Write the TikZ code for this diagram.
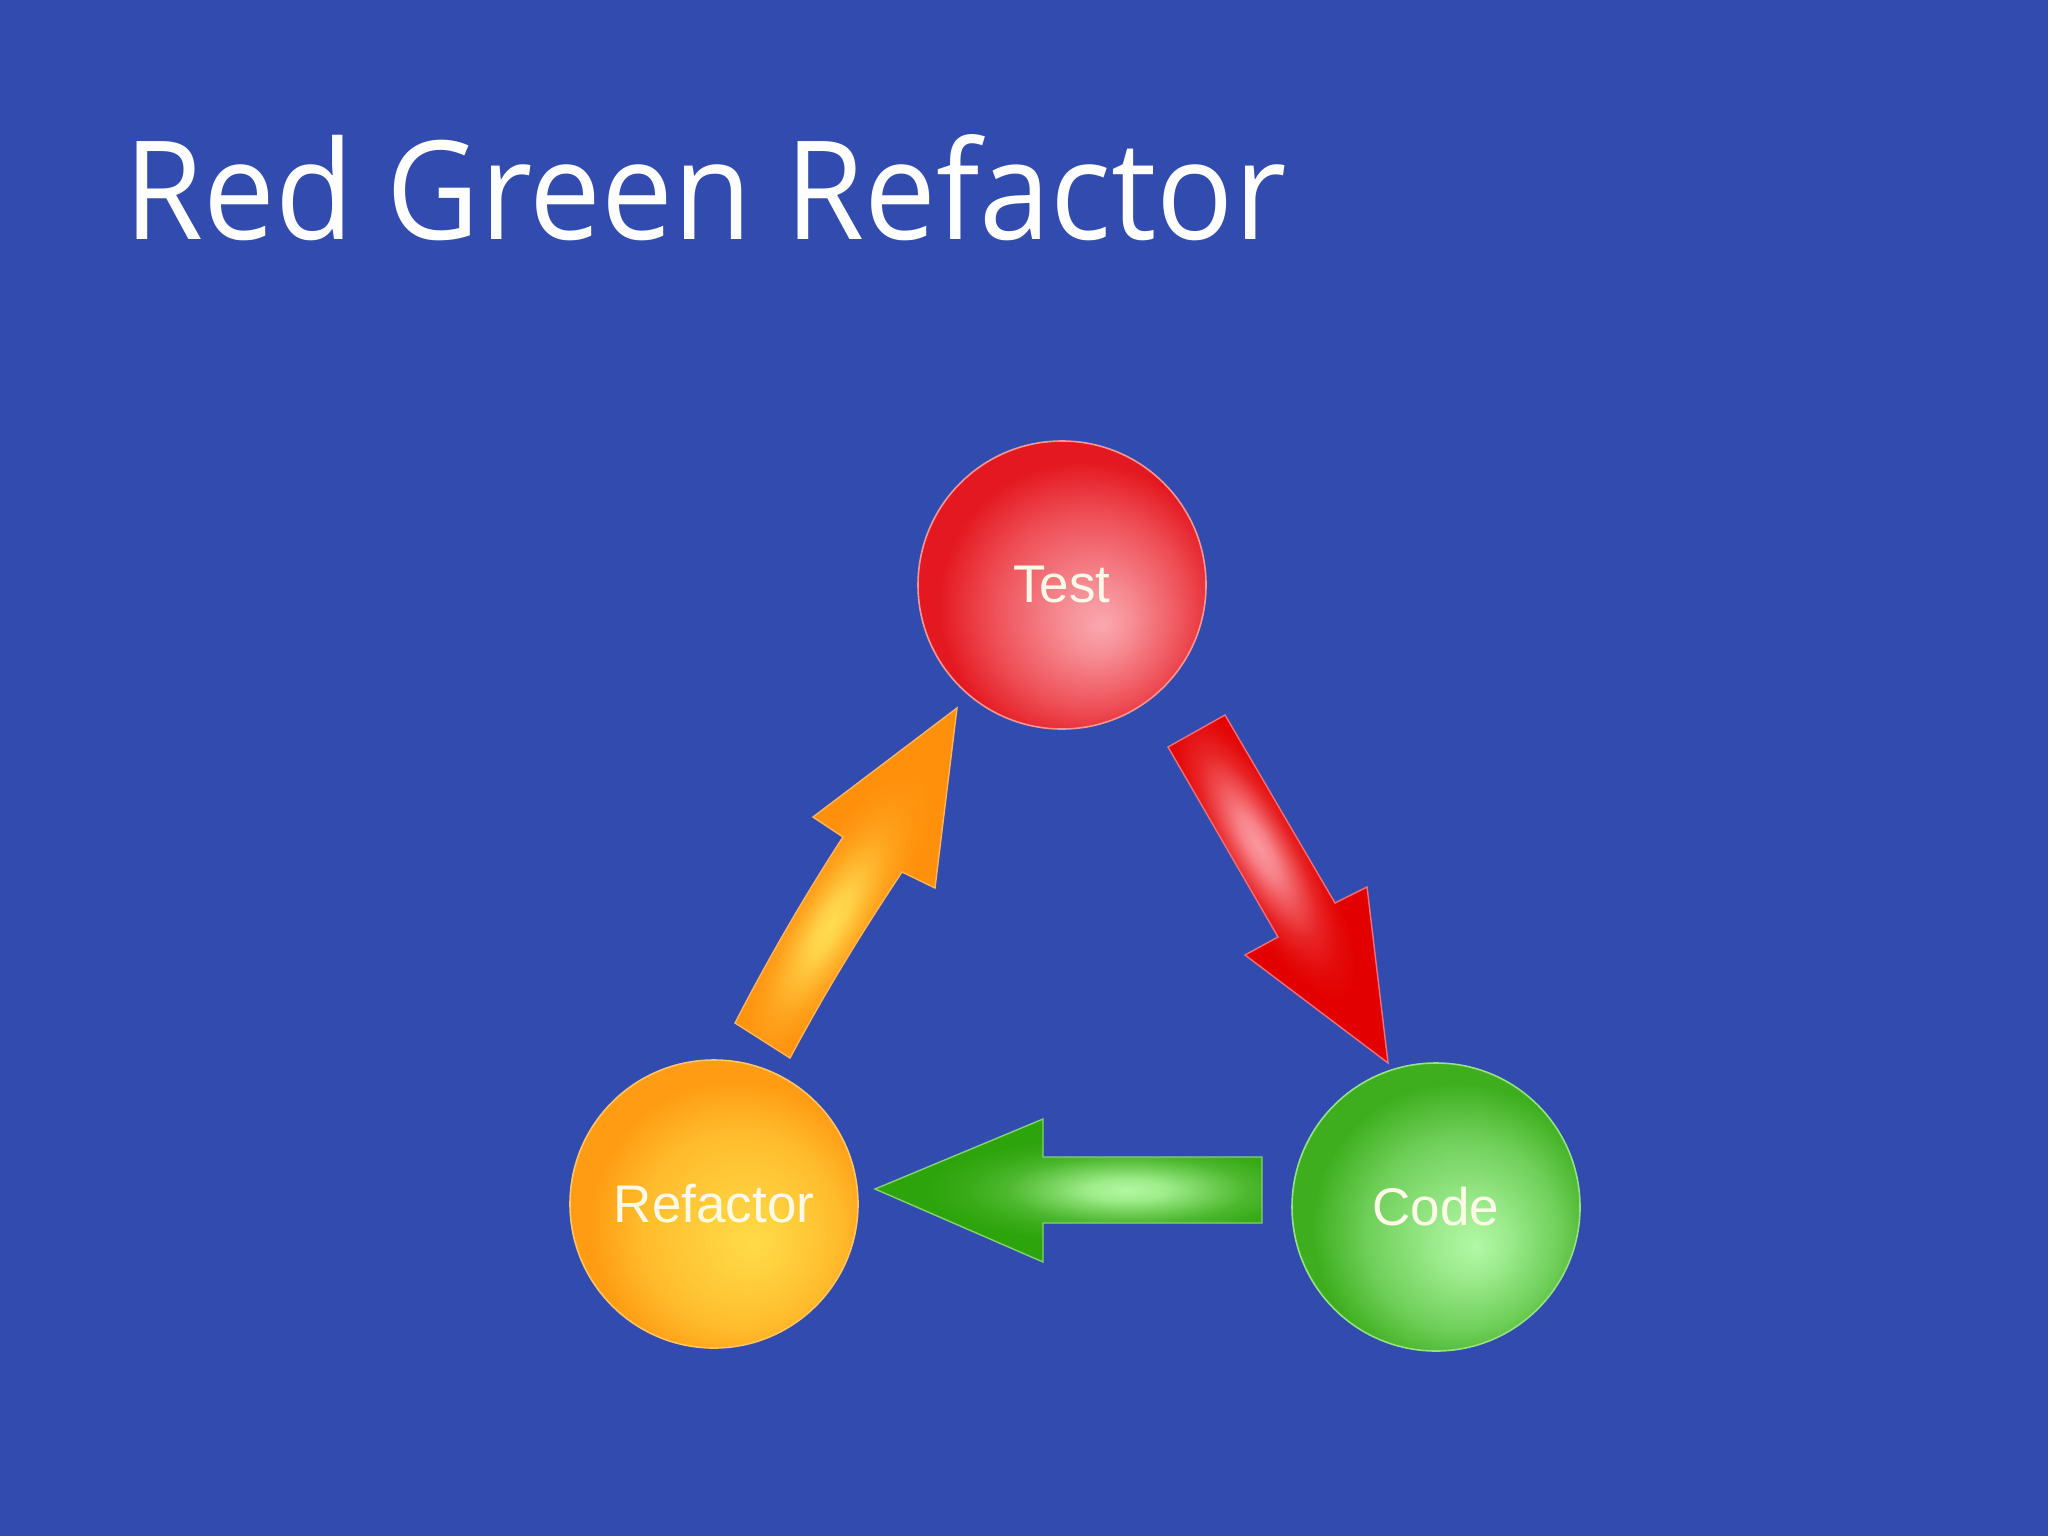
\documentclass[tikz,border=0pt]{standalone}
\usepackage{fontspec}
\usepackage{graphicx}
\newfontfamily\titlefont{Open Sans}
\newfontfamily\labelfont{Liberation Sans}
\definecolor{bg}{RGB}{49,76,174}
\definecolor{testedge}{RGB}{228,24,32}
\definecolor{testmid}{RGB}{238,78,86}
\definecolor{testhi}{RGB}{250,168,176}
\definecolor{refedge}{RGB}{255,156,20}
\definecolor{refmid}{RGB}{255,188,44}
\definecolor{refhi}{RGB}{255,218,72}
\definecolor{codeedge}{RGB}{62,174,30}
\definecolor{codemid}{RGB}{110,206,88}
\definecolor{codehi}{RGB}{178,248,166}
\definecolor{redarrow}{RGB}{226,0,0}
\definecolor{redglowc}{RGB}{250,152,160}
\definecolor{orarrow}{RGB}{255,144,12}
\definecolor{orglowc}{RGB}{255,220,82}
\definecolor{grarrow}{RGB}{46,164,12}
\definecolor{grglowc}{RGB}{178,248,160}
\definecolor{labeltext}{RGB}{255,250,232}
% the path's bounding box receives the shading's central 50bp square
\pgfdeclareradialshading{testball}{\pgfpoint{7bp}{-7bp}}{color(0bp)=(testhi); color(6bp)=(testhi!70!testmid); color(17bp)=(testmid); color(25bp)=(testedge); color(50bp)=(testedge)}
\pgfdeclareradialshading{refball}{\pgfpoint{7bp}{-7bp}}{color(0bp)=(refhi); color(6bp)=(refhi!70!refmid); color(17bp)=(refmid); color(25bp)=(refedge); color(50bp)=(refedge)}
\pgfdeclareradialshading{codeball}{\pgfpoint{7bp}{-7bp}}{color(0bp)=(codehi); color(6bp)=(codehi!70!codemid); color(17bp)=(codemid); color(25bp)=(codeedge); color(50bp)=(codeedge)}
\pgfdeclareradialshading{redglow}{\pgfpointorigin}{color(0bp)=(redglowc); color(5bp)=(redglowc!85!redarrow); color(10bp)=(redglowc!53!redarrow); color(15bp)=(redglowc!24!redarrow); color(20bp)=(redglowc!8!redarrow); color(25bp)=(redarrow); color(50bp)=(redarrow)}
\pgfdeclareradialshading{orglow}{\pgfpointorigin}{color(0bp)=(orglowc); color(5bp)=(orglowc!85!orarrow); color(10bp)=(orglowc!53!orarrow); color(15bp)=(orglowc!24!orarrow); color(20bp)=(orglowc!8!orarrow); color(25bp)=(orarrow); color(50bp)=(orarrow)}
\pgfdeclareradialshading{grglow}{\pgfpointorigin}{color(0bp)=(grglowc); color(5bp)=(grglowc!85!grarrow); color(10bp)=(grglowc!53!grarrow); color(15bp)=(grglowc!24!grarrow); color(20bp)=(grglowc!8!grarrow); color(25bp)=(grarrow); color(50bp)=(grarrow)}
\begin{document}
\begin{tikzpicture}[x=0.5pt,y=0.5pt,
  ball/.style={circle, minimum size=144pt, inner sep=0pt, line width=0.8pt,
    font=\labelfont\fontsize{26.5pt}{30pt}\selectfont, text=labeltext},
  arrowline/.style={line width=0.7pt, line join=miter}]
\useasboundingbox (0,0) rectangle (2048,-1536);
\fill[bg] (0,0) rectangle (2048,-1536);
% title
\node[anchor=base west, inner sep=0pt, text=white] (title) at (124,-239)
  {\resizebox{581pt}{\height}{\titlefont\fontsize{68.6pt}{80pt}\selectfont Red Green Refactor}};
% balls
\node[ball, shading=testball, draw={rgb,255:red,245;green,150;blue,150}] (test) at (1062,-585) {\raisebox{-1.5pt}{Test}};
\node[ball, shading=refball, draw={rgb,255:red,255;green,196;blue,100}] (refactor) at (714,-1204) {\raisebox{-1pt}{Refactor}};
\node[ball, shading=codeball, draw={rgb,255:red,150;green,225;blue,130}] (code) at (1436,-1207) {\raisebox{-2pt}{Code}};
% red arrow (Test -> Code)
\coordinate (rtl) at (1168,-747);
\coordinate (rtr) at (1225,-715);
\coordinate (rsr) at (1335,-903);
\coordinate (rhr) at (1367,-887);
\coordinate (rtip) at (1388,-1063);
\coordinate (rhl) at (1245,-955);
\coordinate (rsl) at (1278,-937);
\begin{scope}
  \clip (rtl) -- (rtr) -- (rsr) -- (rhr) -- (rtip) -- (rhl) -- (rsl) -- cycle;
  \fill[redarrow] (rtl) -- (rtr) -- (rsr) -- (rhr) -- (rtip) -- (rhl) -- (rsl) -- cycle;
  \begin{scope}[transform canvas={shift={(1258,-846)}, rotate=-60}]
    \shade[shading=redglow] (0,0) ellipse [x radius=175, y radius=52];
  \end{scope}
\end{scope}
\draw[arrowline, draw={rgb,255:red,240;green,110;blue,120}] (rtl) -- (rtr) -- (rsr) -- (rhr) -- (rtip) -- (rhl) -- (rsl) -- cycle;
% green arrow (Code -> Refactor)
\coordinate (gtip) at (875,-1189);
\coordinate (ght) at (1043,-1119);
\coordinate (gst) at (1043,-1157);
\coordinate (gtt) at (1262,-1157);
\coordinate (gtb) at (1262,-1223);
\coordinate (gsb) at (1043,-1223);
\coordinate (ghb) at (1043,-1262);
\begin{scope}
  \clip (gtip) -- (ght) -- (gst) -- (gtt) -- (gtb) -- (gsb) -- (ghb) -- cycle;
  \fill[grarrow] (gtip) -- (ght) -- (gst) -- (gtt) -- (gtb) -- (gsb) -- (ghb) -- cycle;
  \begin{scope}[transform canvas={shift={(1127,-1190)}}]
    \shade[shading=grglow] (0,0) ellipse [x radius=200, y radius=54];
  \end{scope}
\end{scope}
\draw[arrowline, draw={rgb,255:red,130;green,210;blue,110}] (gtip) -- (ght) -- (gst) -- (gtt) -- (gtb) -- (gsb) -- (ghb) -- cycle;
% orange arrow (Refactor -> Test)
\coordinate (otl) at (735,-1023);
\coordinate (osl) at (843,-837);
\coordinate (ohl) at (813,-817);
\coordinate (otip) at (957,-708);
\coordinate (ohr) at (935,-888);
\coordinate (osr) at (902,-872);
\coordinate (otr) at (790,-1058);
\begin{scope}
  \clip (otl) .. controls (768,-959) and (804,-897) .. (osl) -- (ohl) -- (otip) -- (ohr) -- (osr) .. controls (862,-932) and (824,-994) .. (otr) -- cycle;
  \fill[orarrow] (otl) .. controls (768,-959) and (804,-897) .. (osl) -- (ohl) -- (otip) -- (ohr) -- (osr) .. controls (862,-932) and (824,-994) .. (otr) -- cycle;
  \begin{scope}[transform canvas={shift={(830,-925)}, rotate=59.6}]
    \shade[shading=orglow] (0,0) ellipse [x radius=175, y radius=54];
  \end{scope}
\end{scope}
\draw[arrowline, draw={rgb,255:red,255;green,180;blue,90}] (otl) .. controls (768,-959) and (804,-897) .. (osl) -- (ohl) -- (otip) -- (ohr) -- (osr) .. controls (862,-932) and (824,-994) .. (otr) -- cycle;
\end{tikzpicture}
\end{document}
